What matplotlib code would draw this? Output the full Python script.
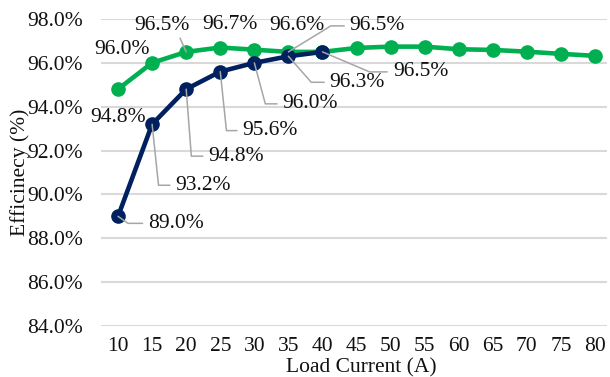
import matplotlib
matplotlib.use("Agg")
import matplotlib.pyplot as plt
from matplotlib.ticker import FuncFormatter

categories = [10, 15, 20, 25, 30, 35, 40, 45, 50, 55, 60, 65, 70, 75, 80]
green_vals = [94.8, 96.0, 96.5, 96.7, 96.6, 96.5, 96.5, 96.68, 96.74, 96.74, 96.62, 96.59, 96.51, 96.41, 96.32]
navy_vals = [89.0, 93.2, 94.8, 95.6, 96.0, 96.3, 96.5]
y_ticks = [84, 86, 88, 90, 92, 94, 96, 98]

# label placement: (index, dx px, dy px, leader angle or None)
green_labels = [(0, 0, -28, None), (1, -30, 13, None), (2, -24, 26, "slant"),
                (3, 10, 23, None), (4, 43, 24, None), (5, 89, 26, 31.5)]
navy_labels = [(0, 58, -7, -35), (1, 51, -61, -84), (2, 50, -67, -85.6),
               (3, 50, -59, -84), (4, 56, -41, -75), (5, 69, -26, -48.7),
               (6, 98, -20, -23)]

GREEN = "#00b050"
NAVY = "#002060"
LEADER = "#a6a6a6"
TXT = "#111111"
FS = 15.5

plt.rcParams["font.family"] = ["Liberation Serif", "DejaVu Serif"]
fig = plt.figure(figsize=(6.1, 3.77), dpi=100)
ax = fig.add_axes([101 / 610, 1 - 326 / 377, 506 / 610, 307 / 377])

x_idx = list(range(len(categories)))
ax.plot(x_idx, green_vals, color=GREEN, lw=3.3, marker="o", ms=9.5, zorder=3,
        solid_capstyle="round")
ax.plot(x_idx[:len(navy_vals)], navy_vals, color=NAVY, lw=3.3, marker="o", ms=9.5,
        zorder=4, solid_capstyle="round")

ax.set_xlim(-0.5, 14.35)
ax.set_ylim(84, 98)
ax.set_yticks(y_ticks)
ax.yaxis.set_major_formatter(FuncFormatter(lambda v, p: f"{v:.1f}%"))
ax.set_xticks(x_idx)
ax.set_xticklabels([str(c) for c in categories])
ax.grid(axis="y", color="#d9d9d9", lw=1.5)
ax.set_axisbelow(True)
for s in ax.spines.values():
    s.set_visible(False)
ax.tick_params(axis="both", length=0, labelsize=FS, colors=TXT)
ax.tick_params(axis="y", pad=13)
ax.tick_params(axis="x", pad=8)
ax.set_xlabel("Load Current (A)", fontsize=FS, color=TXT, va="baseline")
ax.xaxis.set_label_coords((361 - 101) / 506, -(372 - 326) / 307)
ax.set_ylabel("Efficinecy (%)", fontsize=FS, color=TXT, va="center")
ax.yaxis.set_label_coords(-(101 - 20) / 506, 0.5)


def add_labels(vals, specs):
    for i, dx, dy, ang in specs:
        kw = dict(textcoords="offset pixels", ha="center", va="center",
                  fontsize=FS, color=TXT, zorder=6)
        if ang is None:
            ax.annotate(f"{vals[i]:.1f}%", (i, vals[i]), xytext=(dx, dy), **kw)
        elif ang == "slant":
            ax.annotate(f"{vals[i]:.1f}%", (i, vals[i]), xytext=(dx, dy),
                        arrowprops=dict(arrowstyle="-", color=LEADER, lw=1.1,
                                        shrinkA=0, shrinkB=0, relpos=(0.8, 0.0)),
                        **kw)
        else:
            ax.annotate(f"{vals[i]:.1f}%", (i, vals[i]), xytext=(dx, dy),
                        arrowprops=dict(arrowstyle="-", color=LEADER, lw=1.1,
                                        shrinkA=2, shrinkB=0,
                                        connectionstyle=f"angle,angleA=0,angleB={ang},rad=0"),
                        **kw)


add_labels(green_vals, green_labels)
add_labels(navy_vals, navy_labels)

fig.savefig("out.png", dpi=100)
